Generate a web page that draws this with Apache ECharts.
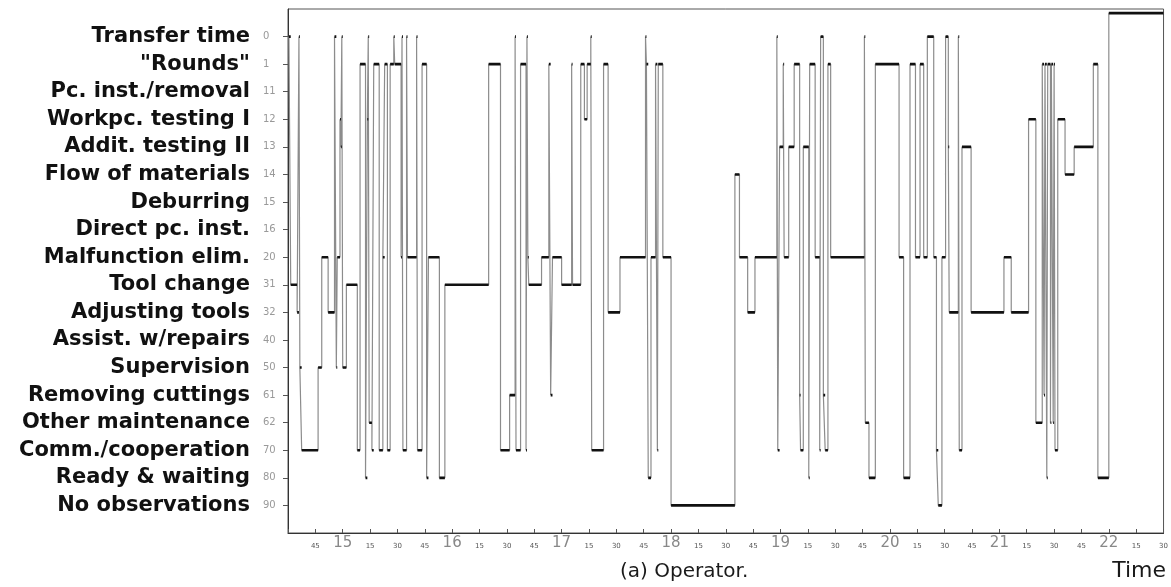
<!DOCTYPE html>
<html>
<head>
<meta charset="utf-8">
<script src="https://cdn.jsdelivr.net/npm/echarts@6/dist/echarts.min.js"></script>
<style>
html,body{margin:0;padding:0;background:#fff;}
#chart{width:1171px;height:587px;}
</style>
</head>
<body>
<div id="chart"></div>
<script>
// Activity categories (top to bottom) and their codes
var categoryNames = ['Transfer time', '"Rounds"', 'Pc. inst./removal', 'Workpc. testing I', 'Addit. testing II',
  'Flow of materials', 'Deburring', 'Direct pc. inst.', 'Malfunction elim.', 'Tool change', 'Adjusting tools',
  'Assist. w/repairs', 'Supervision', 'Removing cuttings', 'Other maintenance', 'Comm./cooperation',
  'Ready & waiting', 'No observations'];
var categoryCodes = ['0', '1', '11', '12', '13', '14', '15', '16', '20', '31', '32', '40', '50', '61', '62', '70', '80', '90'];

// Observed activity changes: clock time at which each activity starts
var changeTimes = ['14:30.5', '14:31.5', '14:35', '14:36', '14:36.5', '14:37.5', '14:46.5', '14:48.5', '14:52', '14:55.5',
  '14:56.5', '14:57', '14:58.5', '14:59', '14:59.5', '15:00', '15:02', '15:08', '15:09.5', '15:12.5',
  '15:13.5', '15:14', '15:14.5', '15:16', '15:17', '15:20', '15:22', '15:23', '15:24.5', '15:26',
  '15:28', '15:28.5', '15:32', '15:32.5', '15:33', '15:35', '15:35.5', '15:40.5', '15:41', '15:43.5',
  '15:46', '15:47', '15:53', '15:56', '16:20', '16:26.5', '16:31.5', '16:34.5', '16:35', '16:37.5',
  '16:40.5', '16:41', '16:41.5', '16:42', '16:49', '16:53', '16:54', '16:55', '17:00', '17:05.5',
  '17:06', '17:10.5', '17:12.5', '17:14', '17:16', '17:16.5', '17:23', '17:25.5', '17:32', '17:46',
  '17:46.5', '17:47.5', '17:49', '17:51.5', '17:52.5', '17:53', '17:55.5', '18:00', '18:35', '18:37.5',
  '18:42', '18:46', '18:58', '18:58.5', '18:59.5', '19:01.5', '19:02', '19:04.5', '19:07.5', '19:10.5',
  '19:11', '19:12.5', '19:15.5', '19:16', '19:19', '19:21.5', '19:22', '19:23.5', '19:24.5', '19:26',
  '19:27.5', '19:46', '19:46.5', '19:48.5', '19:52', '20:05', '20:07.5', '20:11', '20:14', '20:16.5',
  '20:18.5', '20:20.5', '20:24', '20:25.5', '20:26.5', '20:28.5', '20:30.5', '20:32', '20:32.5', '20:37.5',
  '20:38', '20:39.5', '20:44.5', '21:02.5', '21:06.5', '21:16', '21:20', '21:23.5', '21:24.5', '21:25',
  '21:26', '21:26.5', '21:28', '21:28.5', '21:29.5', '21:30', '21:30.5', '21:32', '21:36', '21:41',
  '21:51.5', '21:54', '22:00'];
var changeCodes = ['0', '31', '32', '0', '50', '70', '50', '20', '32', '0',
  '50', '20', '12', '13', '0', '50', '31', '70', '1', '80',
  '12', '0', '62', '70', '1', '70', '20', '1', '70', '1',
  '0', '1', '20', '0', '70', '0', '20', '0', '70', '1',
  '80', '20', '80', '31', '1', '70', '61', '0', '70', '1',
  '70', '0', '20', '31', '20', '1', '61', '20', '31', '1',
  '31', '1', '12', '1', '0', '70', '1', '32', '20', '0',
  '1', '80', '20', '1', '70', '1', '20', '90', '14', '20',
  '32', '20', '0', '70', '13', '1', '20', '13', '1', '61',
  '70', '13', '80', '1', '20', '70', '0', '61', '70', '1',
  '20', '0', '62', '80', '1', '20', '80', '1', '20', '1',
  '20', '0', '20', '70', '90', '20', '0', '13', '32', '0',
  '70', '13', '32', '20', '32', '12', '62', '1', '61', '1',
  '80', '1', '62', '1', '62', '1', '70', '12', '14', '13',
  '1', '80', 'end'];
var endTime = '22:30';

// X axis tick labels: hours shown large, quarter hours small
var hourLabels = ['15', '16', '17', '18', '19', '20', '21', '22'];
var quarterLabels = ['15', '30', '45'];

function toMin(s) {
  var p = s.split(':');
  return parseInt(p[0], 10) * 60 + parseFloat(p[1]);
}
function codeIndex(c) {
  if (c === 'end') return -0.85; // off-scale marker at top of frame (end of shift)
  return categoryCodes.indexOf(c);
}

var stepData = [];
var flatData = [];
for (var i = 0; i < changeTimes.length; i++) {
  var t0 = toMin(changeTimes[i]);
  var t1 = i + 1 < changeTimes.length ? toMin(changeTimes[i + 1]) : toMin(endTime);
  var v = codeIndex(changeCodes[i]);
  stepData.push([t0, v]);
  flatData.push([t0, v]);
  flatData.push([t1, v]);
  flatData.push(null);
}
stepData.push([toMin(endTime), codeIndex(changeCodes[changeCodes.length - 1])]);

var tickIdx = categoryCodes.map(function (c, k) { return k; });

var chart = echarts.init(document.getElementById('chart'));
chart.setOption({
  animation: false,
  backgroundColor: '#ffffff',
  title: [
    { text: '(a) Operator.', left: 620, top: 562, padding: 0,
      textStyle: { fontFamily: 'DejaVu Sans', fontSize: 20, fontWeight: 'normal', color: '#1a1a1a' } },
    { text: 'Time', right: 5, top: 560, padding: 0,
      textStyle: { fontFamily: 'DejaVu Sans', fontSize: 22, fontWeight: 'normal', color: '#1a1a1a' } }
  ],
  grid: { left: 288, right: 4, top: 9, bottom: 54, show: true, borderColor: '#555', borderWidth: 1 },
  xAxis: {
    type: 'value', min: 870, max: 1350, interval: 15,
    axisLine: { onZero: false, lineStyle: { color: '#333', width: 1 } },
    axisTick: { inside: true, length: 4, lineStyle: { color: '#555' } },
    splitLine: { show: false },
    axisLabel: {
      margin: 3,
      showMinLabel: true,
      formatter: function (val) {
        if (val <= 870) return '';
        var m = val % 60;
        if (m === 0) return '{h|' + hourLabels[val / 60 - 15] + '}';
        return '{m|' + quarterLabels[m / 15 - 1] + '}';
      },
      rich: {
        h: { fontFamily: 'DejaVu Sans', fontSize: 15, color: '#888' },
        m: { fontFamily: 'DejaVu Sans', fontSize: 7, color: '#555', padding: [7, 0, 0, 0] }
      }
    }
  },
  yAxis: [
    {
      type: 'value', min: -1, max: 18, inverse: true, position: 'left', offset: 0,
      axisLine: { show: true, onZero: false, lineStyle: { color: '#333', width: 1 } },
      axisTick: { show: true, inside: false, length: 5, customValues: tickIdx, lineStyle: { color: '#555' } },
      splitLine: { show: false },
      axisLabel: {
        customValues: tickIdx, margin: 38,
        fontFamily: 'DejaVu Sans', fontSize: 21, fontWeight: 'bold', color: '#111',
        formatter: function (val) { return categoryNames[val] || ''; }
      }
    },
    {
      type: 'value', min: -1, max: 18, inverse: true, position: 'left', offset: 0,
      axisLine: { show: false, onZero: false }, axisTick: { show: false }, splitLine: { show: false },
      axisLabel: {
        customValues: tickIdx, margin: 25, align: 'left',
        fontFamily: 'DejaVu Sans', fontSize: 10, color: '#999',
        formatter: function (val) { return categoryCodes[val] || ''; }
      }
    }
  ],
  series: [
    {
      type: 'line', step: 'end', data: stepData, showSymbol: false, symbol: 'none',
      lineStyle: { color: '#8c8c8c', width: 1.2 }, z: 2
    },
    {
      type: 'line', data: flatData, showSymbol: false, symbol: 'none', connectNulls: false,
      lineStyle: { color: '#111', width: 2.6 }, z: 3
    }
  ]
});
</script>
</body>
</html>
